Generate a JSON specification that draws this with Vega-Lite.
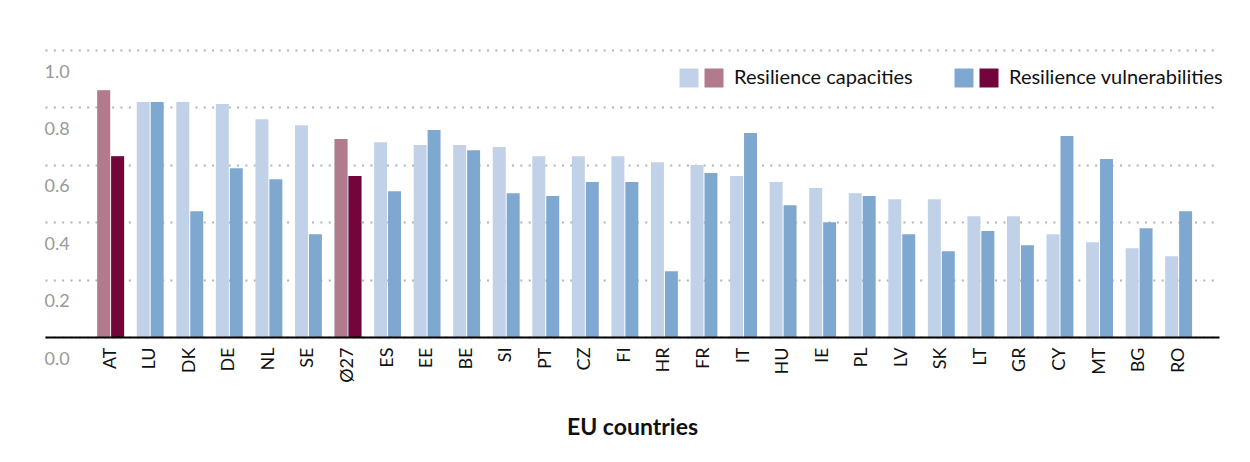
{
  "$schema": "https://vega.github.io/schema/vega-lite/v6.json",
  "width": 1174,
  "height": 287,
  "autosize": {"type": "none"},
  "padding": {"left": 45, "top": 50, "right": 31, "bottom": 125},
  "background": "white",
  "config": {
    "view": {"stroke": null},
    "font": "Lato"
  },
  "data": {
    "values": [
      {"country": "AT", "series": "Resilience capacities", "value": 0.860, "hl": true},
      {"country": "AT", "series": "Resilience vulnerabilities", "value": 0.630, "hl": true},
      {"country": "LU", "series": "Resilience capacities", "value": 0.819, "hl": false},
      {"country": "LU", "series": "Resilience vulnerabilities", "value": 0.819, "hl": false},
      {"country": "DK", "series": "Resilience capacities", "value": 0.819, "hl": false},
      {"country": "DK", "series": "Resilience vulnerabilities", "value": 0.438, "hl": false},
      {"country": "DE", "series": "Resilience capacities", "value": 0.812, "hl": false},
      {"country": "DE", "series": "Resilience vulnerabilities", "value": 0.588, "hl": false},
      {"country": "NL", "series": "Resilience capacities", "value": 0.759, "hl": false},
      {"country": "NL", "series": "Resilience vulnerabilities", "value": 0.550, "hl": false},
      {"country": "SE", "series": "Resilience capacities", "value": 0.738, "hl": false},
      {"country": "SE", "series": "Resilience vulnerabilities", "value": 0.358, "hl": false},
      {"country": "Ø27", "series": "Resilience capacities", "value": 0.690, "hl": true},
      {"country": "Ø27", "series": "Resilience vulnerabilities", "value": 0.561, "hl": true},
      {"country": "ES", "series": "Resilience capacities", "value": 0.679, "hl": false},
      {"country": "ES", "series": "Resilience vulnerabilities", "value": 0.508, "hl": false},
      {"country": "EE", "series": "Resilience capacities", "value": 0.669, "hl": false},
      {"country": "EE", "series": "Resilience vulnerabilities", "value": 0.721, "hl": false},
      {"country": "BE", "series": "Resilience capacities", "value": 0.669, "hl": false},
      {"country": "BE", "series": "Resilience vulnerabilities", "value": 0.651, "hl": false},
      {"country": "SI", "series": "Resilience capacities", "value": 0.662, "hl": false},
      {"country": "SI", "series": "Resilience vulnerabilities", "value": 0.501, "hl": false},
      {"country": "PT", "series": "Resilience capacities", "value": 0.630, "hl": false},
      {"country": "PT", "series": "Resilience vulnerabilities", "value": 0.491, "hl": false},
      {"country": "CZ", "series": "Resilience capacities", "value": 0.630, "hl": false},
      {"country": "CZ", "series": "Resilience vulnerabilities", "value": 0.540, "hl": false},
      {"country": "FI", "series": "Resilience capacities", "value": 0.630, "hl": false},
      {"country": "FI", "series": "Resilience vulnerabilities", "value": 0.540, "hl": false},
      {"country": "HR", "series": "Resilience capacities", "value": 0.609, "hl": false},
      {"country": "HR", "series": "Resilience vulnerabilities", "value": 0.229, "hl": false},
      {"country": "FR", "series": "Resilience capacities", "value": 0.599, "hl": false},
      {"country": "FR", "series": "Resilience vulnerabilities", "value": 0.571, "hl": false},
      {"country": "IT", "series": "Resilience capacities", "value": 0.561, "hl": false},
      {"country": "IT", "series": "Resilience vulnerabilities", "value": 0.711, "hl": false},
      {"country": "HU", "series": "Resilience capacities", "value": 0.540, "hl": false},
      {"country": "HU", "series": "Resilience vulnerabilities", "value": 0.459, "hl": false},
      {"country": "IE", "series": "Resilience capacities", "value": 0.519, "hl": false},
      {"country": "IE", "series": "Resilience vulnerabilities", "value": 0.400, "hl": false},
      {"country": "PL", "series": "Resilience capacities", "value": 0.501, "hl": false},
      {"country": "PL", "series": "Resilience vulnerabilities", "value": 0.491, "hl": false},
      {"country": "LV", "series": "Resilience capacities", "value": 0.480, "hl": false},
      {"country": "LV", "series": "Resilience vulnerabilities", "value": 0.358, "hl": false},
      {"country": "SK", "series": "Resilience capacities", "value": 0.480, "hl": false},
      {"country": "SK", "series": "Resilience vulnerabilities", "value": 0.299, "hl": false},
      {"country": "LT", "series": "Resilience capacities", "value": 0.421, "hl": false},
      {"country": "LT", "series": "Resilience vulnerabilities", "value": 0.369, "hl": false},
      {"country": "GR", "series": "Resilience capacities", "value": 0.421, "hl": false},
      {"country": "GR", "series": "Resilience vulnerabilities", "value": 0.320, "hl": false},
      {"country": "CY", "series": "Resilience capacities", "value": 0.358, "hl": false},
      {"country": "CY", "series": "Resilience vulnerabilities", "value": 0.700, "hl": false},
      {"country": "MT", "series": "Resilience capacities", "value": 0.330, "hl": false},
      {"country": "MT", "series": "Resilience vulnerabilities", "value": 0.620, "hl": false},
      {"country": "BG", "series": "Resilience capacities", "value": 0.309, "hl": false},
      {"country": "BG", "series": "Resilience vulnerabilities", "value": 0.379, "hl": false},
      {"country": "RO", "series": "Resilience capacities", "value": 0.281, "hl": false},
      {"country": "RO", "series": "Resilience vulnerabilities", "value": 0.438, "hl": false}
    ]
  },
  "encoding": {
    "x": {
      "field": "country",
      "type": "nominal",
      "sort": null,
      "scale": {"paddingInner": 0.32, "paddingOuter": 1.0, "align": 0.66},
      "axis": {
        "title": "EU countries",
        "titleFont": "Lato",
        "titleFontSize": 23,
        "titleFontWeight": "bold",
        "titleColor": "#111111",
        "titleY": 90,
        "titleBaseline": "middle",
        "labelAngle": -90,
        "labelAlign": "right",
        "labelBaseline": "middle",
        "labelPadding": 10,
        "labelFontSize": 18,
        "labelColor": "#111111",
        "ticks": false,
        "domain": true,
        "domainColor": "#000000",
        "domainWidth": 2,
        "grid": false,
        "zindex": 1
      }
    },
    "xOffset": {
      "field": "series",
      "type": "nominal",
      "scale": {"domain": ["Resilience capacities", "Resilience vulnerabilities"], "paddingInner": 0.07}
    },
    "y": {
      "field": "value",
      "type": "quantitative",
      "scale": {"domain": [0, 1]},
      "axis": {
        "title": null,
        "values": [0, 0.2, 0.4, 0.6, 0.8, 1.0],
        "format": ".1f",
        "domain": false,
        "ticks": false,
        "labelAlign": "left",
        "labelBaseline": "middle",
        "labelPadding": 1,
        "labelOffset": 22,
        "labelFlush": false,
        "labelOverlap": false,
        "labelFontSize": 18,
        "labelColor": "#999999",
        "grid": true,
        "gridColor": "#b3b3b3",
        "gridWidth": 2,
        "gridDash": [2, 6.33]
      }
    }
  },
  "layer": [
    {
      "mark": {"type": "bar"},
      "encoding": {
        "color": {
          "field": "series",
          "type": "nominal",
          "scale": {"domain": ["Resilience capacities", "Resilience vulnerabilities"], "range": ["#c1d2e8", "#7fa8d0"]},
          "legend": {
            "orient": "none",
            "legendX": 634,
            "legendY": 18,
            "direction": "horizontal",
            "title": null,
            "padding": 0,
            "symbolType": "M-1,-1H1V1H-1Z",
            "symbolSize": 361,
            "symbolStrokeWidth": 0,
            "symbolOpacity": 1,
            "labelOffset": 35,
            "labelFontSize": 20,
            "labelColor": "#111111",
            "labelLimit": 400,
            "columnPadding": 41
          }
        }
      }
    },
    {
      "transform": [{"filter": "datum.hl"}],
      "mark": {"type": "bar"},
      "encoding": {
        "fill": {
          "field": "series",
          "type": "nominal",
          "scale": {"range": ["#b27b8d", "#72063a"]},
          "legend": {
            "orient": "none",
            "legendX": 634,
            "legendY": 18,
            "direction": "horizontal",
            "title": null,
            "padding": 0,
            "symbolType": "M1.632,-1H3.632V1H1.632Z",
            "symbolSize": 361,
            "symbolStrokeWidth": 0,
            "symbolOpacity": 1,
            "labelOffset": 35,
            "labelFontSize": 20,
            "labelOpacity": 0,
            "labelLimit": 400,
            "columnPadding": 41
          }
        }
      }
    }
  ]
}
